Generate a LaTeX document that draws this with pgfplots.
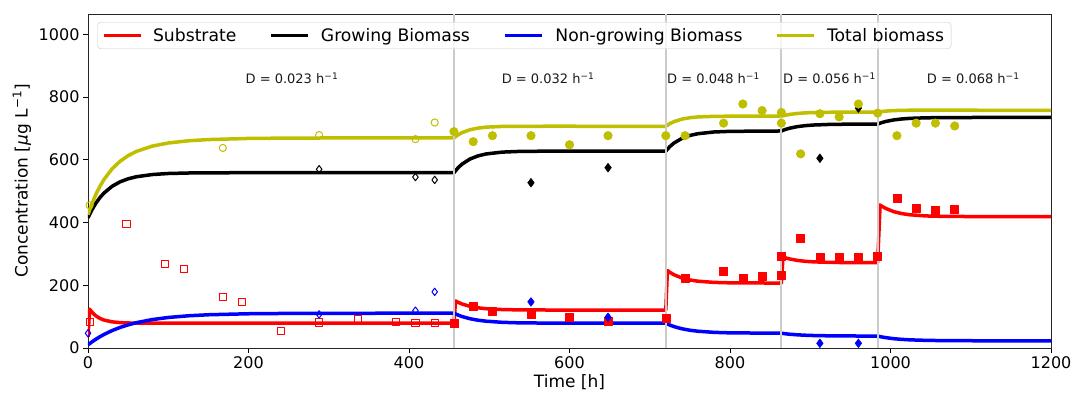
\documentclass[border=0pt]{standalone}
\usepackage{fontspec}
\setmainfont{DejaVu Sans}
\usepackage{pgfplots}
\pgfplotsset{compat=1.18}
\definecolor{oliveY}{rgb}{0.75,0.75,0}
\definecolor{gridgray}{rgb}{0.8,0.8,0.8}
\begin{document}
\begin{tikzpicture}
\begin{axis}[
  name=ax, scale only axis, width=963pt, height=334pt,
  xmin=0, xmax=1200, ymin=0, ymax=1065,
  xtick={0,200,...,1200}, ytick={0,200,...,1000},
  tick align=outside, tick pos=left, major tick length=5pt,
  tick style={black, line width=0.8pt},
  axis line style={black!85, line width=0.9pt},
  ticklabel style={font=\fontsize{16}{19}\selectfont},
  /pgf/number format/assume math mode=true,
  /pgf/number format/1000 sep={},
  legend columns=4, legend cell align=left,
  legend style={at={(0.0097,0.976)}, anchor=north west, draw=black!22, rounded corners=3.5pt,
    fill=white, fill opacity=0.8, text opacity=1, font=\fontsize{17.2}{20}\selectfont,
    inner xsep=5pt, inner ysep=4pt,
    /tikz/column sep=0pt},
  legend image code/.code={\draw[#1] (0pt,0pt) -- (37pt,0pt);},
  every axis plot/.append style={line join=round},
]
% model curves
\addplot[red, line width=3.5pt] coordinates {(0,36)(2,124)(5,114.0)(10,102.1)(15,94.2)(20,89.0)(30,83.4)(40,80.9)(50,79.8)(60,79.4)(80,79)(456,79)(458,150)(461,146.0)(466,140.4)(476,132.8)(486,128.2)(496,125.3)(516,122.6)(536,121.6)(576,121.1)(720,121)(722,247)(725,241.4)(730,233.8)(740,223.3)(750,216.9)(760,213.0)(780,209.2)(800,207.8)(864,207)(866,290)(869,287.5)(874,284.1)(884,279.3)(894,276.4)(904,274.7)(924,273.0)(944,272.4)(984,272)(987,456)(989,452.5)(994,445.1)(1004,434.8)(1014,428.6)(1024,424.8)(1044,421.1)(1064,419.8)(1104,419.1)(1200,419)};
\addlegendentry{\rule{8pt}{0pt}Substrate\rule{31pt}{0pt}}
\addplot[black, line width=3.5pt] coordinates {(0,415)(2,426.1)(5,441.1)(10,462.5)(15,480.0)(20,494.3)(30,515.6)(40,529.9)(50,539.5)(60,545.9)(80,553.1)(100,556.4)(125,558.0)(150,558.6)(200,559)(456,559)(461,574.3)(466,586.2)(476,602.6)(486,612.6)(496,618.7)(516,624.6)(536,626.7)(576,627.8)(720,628)(725,642.2)(730,653.2)(740,668.5)(750,677.7)(760,683.3)(780,688.8)(800,690.8)(864,692)(869,696.9)(874,700.7)(884,705.9)(894,709.1)(904,711.0)(924,712.9)(944,713.6)(984,714)(989,718.6)(994,722.3)(1004,727.3)(1014,730.3)(1024,732.2)(1044,734.0)(1064,734.6)(1104,735)(1200,735)};
\addlegendentry{\rule{9pt}{0pt}Growing Biomass\rule{31pt}{0pt}}
\addplot[blue, line width=3.5pt] coordinates {(0,10)(2,14.0)(5,19.6)(10,28.3)(15,36.2)(20,43.3)(30,55.6)(40,65.6)(50,73.8)(60,80.6)(80,90.6)(100,97.3)(125,102.7)(150,106.0)(200,109.2)(250,110.3)(300,110.7)(456,111)(461,105.2)(466,100.4)(476,93.4)(486,88.6)(496,85.5)(516,81.9)(536,80.3)(576,79.3)(720,79)(725,73.2)(730,68.4)(740,61.4)(750,56.6)(760,53.5)(780,49.9)(800,48.3)(864,47.1)(869,45.4)(874,44.0)(884,42.0)(894,40.7)(904,39.8)(924,38.8)(944,38.4)(984,38)(989,35.3)(994,33.1)(1004,29.7)(1014,27.5)(1024,26.0)(1044,24.4)(1064,23.6)(1104,23.1)(1200,23)};
\addlegendentry{\rule{10pt}{0pt}Non-growing Biomass\rule{31pt}{0pt}}
\addplot[oliveY, line width=3.5pt] coordinates {(0,425)(2,440.1)(5,460.7)(10,490.8)(15,516.2)(20,537.6)(30,571.2)(40,595.5)(50,613.3)(60,626.5)(80,643.7)(100,653.7)(125,660.7)(150,664.6)(200,668.2)(250,669.3)(300,669.7)(456,670)(461,679.5)(466,686.6)(476,696.0)(486,701.2)(496,704.2)(516,706.5)(536,707.0)(576,707.1)(720,707)(725,715.4)(730,721.6)(740,729.9)(750,734.3)(760,736.8)(780,738.7)(800,739.1)(864,739.1)(869,742.3)(874,744.7)(884,747.9)(894,749.8)(904,750.8)(924,751.7)(944,752.0)(984,752)(989,753.9)(994,755.4)(1004,757.0)(1014,757.8)(1024,758.2)(1044,758.4)(1064,758.2)(1104,758.1)(1200,758)};
\addlegendentry{\rule{9pt}{0pt}Total biomass}
% measured data: hollow (before 456)
\addplot[only marks, forget plot, mark=square, mark size=3.6pt, mark options={red, line width=1pt}] coordinates {(2,84)(48,395)(96,267)(120,252)(168,163)(192,147)(240,54)(288,81)(336,92)(384,84)(408,80)(432,80)};
\addplot[only marks, forget plot, mark=diamond, mark size=3.7pt, mark options={black, line width=1pt}] coordinates {(288,570)(408,545)(432,536)};
\addplot[only marks, forget plot, mark=diamond, mark size=3.7pt, mark options={blue, line width=1pt}] coordinates {(0,47)(288,107)(408,119)(432,179)};
\addplot[only marks, forget plot, mark=o, mark size=3.6pt, mark options={oliveY, line width=1pt}] coordinates {(2,455)(168,638)(288,679)(408,666)(432,719)};
% measured data: filled
\addplot[only marks, forget plot, mark=square*, mark size=4pt, mark options={red, fill=red, line width=0.5pt}] coordinates {(456,80)(480,132)(504,117)(552,107)(600,98)(648,84)(720,95)(744,222)(792,246)(816,221)(840,230)(864,231)(864,291)(888,349)(912,288)(936,288)(960,288)(984,293)(1008,477)(1032,447)(1056,438)(1080,441)};
\addplot[only marks, forget plot, mark=diamond*, mark size=4.4pt, mark options={black, fill=black, line width=0.5pt}] coordinates {(552,527)(648,575)(912,605)(960,765)};
\addplot[only marks, forget plot, mark=diamond*, mark size=4.4pt, mark options={blue, fill=blue, line width=0.5pt}] coordinates {(552,147)(648,98)(912,15)(960,15)};
\addplot[only marks, forget plot, mark=*, mark size=4.3pt, mark options={oliveY, fill=oliveY, line width=0.5pt}] coordinates {(456,690)(480,658)(504,677)(552,677)(600,648)(648,677)(720,677)(744,677)(792,717)(816,778)(840,757)(864,751)(864,717)(888,619)(912,747)(936,737)(960,778)(984,749)(1008,677)(1032,717)(1056,717)(1080,708)};
% dilution-rate change lines
\addplot[gridgray, line width=2pt, forget plot] coordinates {(456,0)(456,1065)};
\addplot[gridgray, line width=2pt, forget plot] coordinates {(720,0)(720,1065)};
\addplot[gridgray, line width=2pt, forget plot] coordinates {(864,0)(864,1065)};
\addplot[gridgray, line width=2pt, forget plot] coordinates {(984,0)(984,1065)};
\end{axis}
\begin{scope}[every node/.style={font=\fontsize{13}{15}\selectfont, text=black!90}]
\path (ax.south west) ++(0.803*254pt, 0.3135*860pt) node {D = 0.023 h\textsuperscript{−1}};
\path (ax.south west) ++(0.803*573pt, 0.3135*860pt) node {D = 0.032 h\textsuperscript{−1}};
\path (ax.south west) ++(0.803*779pt, 0.3135*860pt) node {D = 0.048 h\textsuperscript{−1}};
\path (ax.south west) ++(0.803*923.5pt, 0.3135*860pt) node {D = 0.056 h\textsuperscript{−1}};
\path (ax.south west) ++(0.803*1102.5pt, 0.3135*860pt) node {D = 0.068 h\textsuperscript{−1}};
\end{scope}
\node[font=\fontsize{17}{20}\selectfont] at ([yshift=-34pt]ax.south) {Time [h]};
\node[font=\fontsize{17}{20}\selectfont, rotate=90] at ([xshift=-66pt]ax.west) {Concentration [\textit{μ}g L\textsuperscript{−1}]};
\pgfresetboundingbox
\path[use as bounding box] ([xshift=-88pt,yshift=-46pt]ax.south west) rectangle ([xshift=22pt,yshift=14pt]ax.north east);
\end{tikzpicture}
\end{document}
